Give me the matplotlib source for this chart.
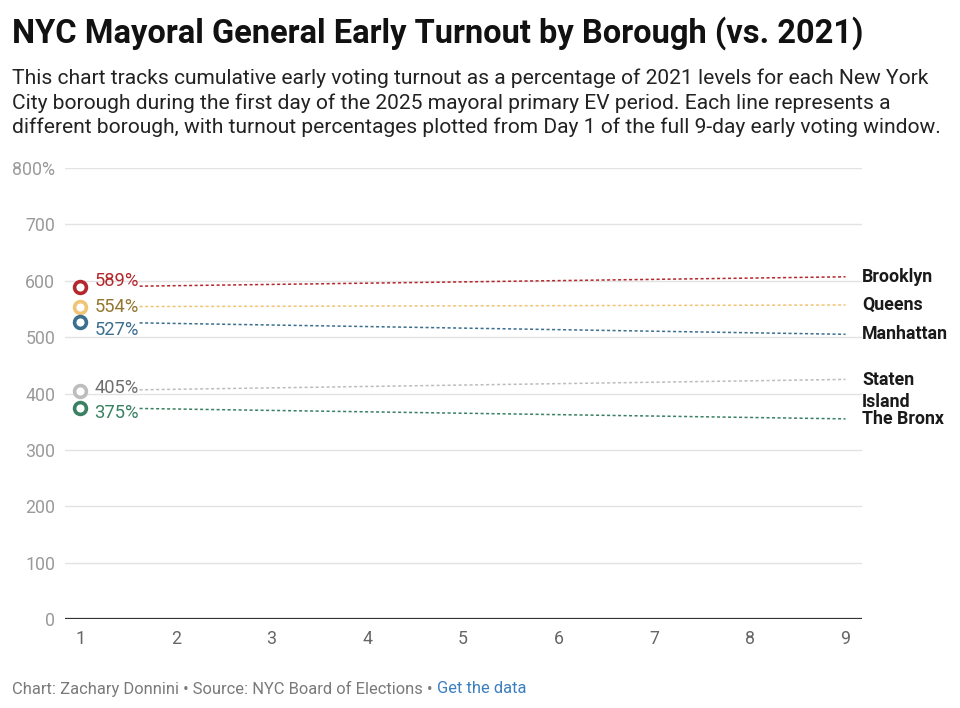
import matplotlib.pyplot as plt
import numpy as np

plt.rcParams['font.family'] = ['Roboto', 'DejaVu Sans']

# data
boroughs = ['Brooklyn', 'Queens', 'Manhattan', 'Staten\nIsland', 'The Bronx']
day1 = [589, 554, 527, 405, 375]
day9_trend = [607, 557, 505, 425, 355]
days = list(range(1, 10))
yticks = [0, 100, 200, 300, 400, 500, 600, 700, 800]
ytick_labels = ['0', '100', '200', '300', '400', '500', '600', '700', '800%']

# styles
line_colors = ['#b3272d', '#f1c476', '#3c6e8f', '#bdbdbd', '#3a8062']
text_colors = ['#b3272d', '#93772e', '#3c6e8f', '#6f6f6f', '#3a8062']
value_offsets = [4, 0, -6, 2, -4]
name_offsets = [0, 0, 0, 6, 0]

fig = plt.figure(figsize=(9.6, 7.08), dpi=100)
ax = fig.add_axes([0.0677, 0.1257, 0.83, 0.637])

start = 1.62
for i, name in enumerate(boroughs):
    y_start = day1[i] + (day9_trend[i] - day1[i]) * (start - 1) / 8
    ax.plot([start, 9], [y_start, day9_trend[i]], linestyle=(0, (2, 1.6)),
            color=line_colors[i], lw=1.1, zorder=2)
    ax.plot([1], [day1[i]], 'o', ms=8.5, mfc='white', mec=line_colors[i],
            mew=2.6, zorder=4)
    ax.annotate('%d%%' % day1[i], (1, day1[i]), xytext=(10, value_offsets[i]),
                textcoords='offset points', ha='left', va='center',
                fontsize=13.2, color=text_colors[i])
    if '\n' in name:
        ax.annotate(name, (9, day9_trend[i]), xytext=(12, name_offsets[i]),
                    textcoords='offset points', ha='left', va='top',
                    fontsize=12.8, fontweight='bold', color='#1a1a1a',
                    linespacing=1.27, annotation_clip=False)
    else:
        ax.annotate(name, (9, day9_trend[i]), xytext=(12, 0),
                    textcoords='offset points', ha='left', va='center',
                    fontsize=12.8, fontweight='bold', color='#1a1a1a',
                    annotation_clip=False)

ax.set_xlim(0.84, 9.17)
ax.set_ylim(0, 800)
ax.set_xticks(days)
ax.set_yticks(yticks)
ax.set_yticklabels(ytick_labels)
ax.grid(axis='y', color='#e3e3e3', lw=1)
ax.set_axisbelow(True)
for s in ['top', 'right', 'left', 'bottom']:
    ax.spines[s].set_visible(False)
ax.axhline(0, color='#333333', lw=1.6, zorder=3)
ax.tick_params(axis='y', length=0, pad=7, labelsize=12.8, labelcolor='#9a9a9a')
ax.tick_params(axis='x', length=0, pad=8, labelsize=12.8, labelcolor='#666666')

fig.text(0.0125, 0.953, 'NYC Mayoral General Early Turnout by Borough (vs. 2021)',
         fontsize=23.5, fontweight='bold', color='#111111', va='center')
fig.text(0.0125, 0.903,
         'This chart tracks cumulative early voting turnout as a percentage of 2021 levels for each New York\n'
         'City borough during the first day of the 2025 mayoral primary EV period. Each line represents a\n'
         'different borough, with turnout percentages plotted from Day 1 of the full 9-day early voting window.',
         fontsize=15.1, color='#222222', va='top', linespacing=1.33)

foot = fig.text(0.0125, 0.027, 'Chart: Zachary Donnini \u2022 Source: NYC Board of Elections \u2022 ',
                fontsize=11.9, color='#7a7a7a', va='center')
fig.canvas.draw()
bb = foot.get_window_extent()
fig.text(bb.x1 / fig.bbox.width, 0.027, 'Get the data', fontsize=11.9,
         color='#3b7fbf', va='center')

fig.savefig('out.png', dpi=100)
